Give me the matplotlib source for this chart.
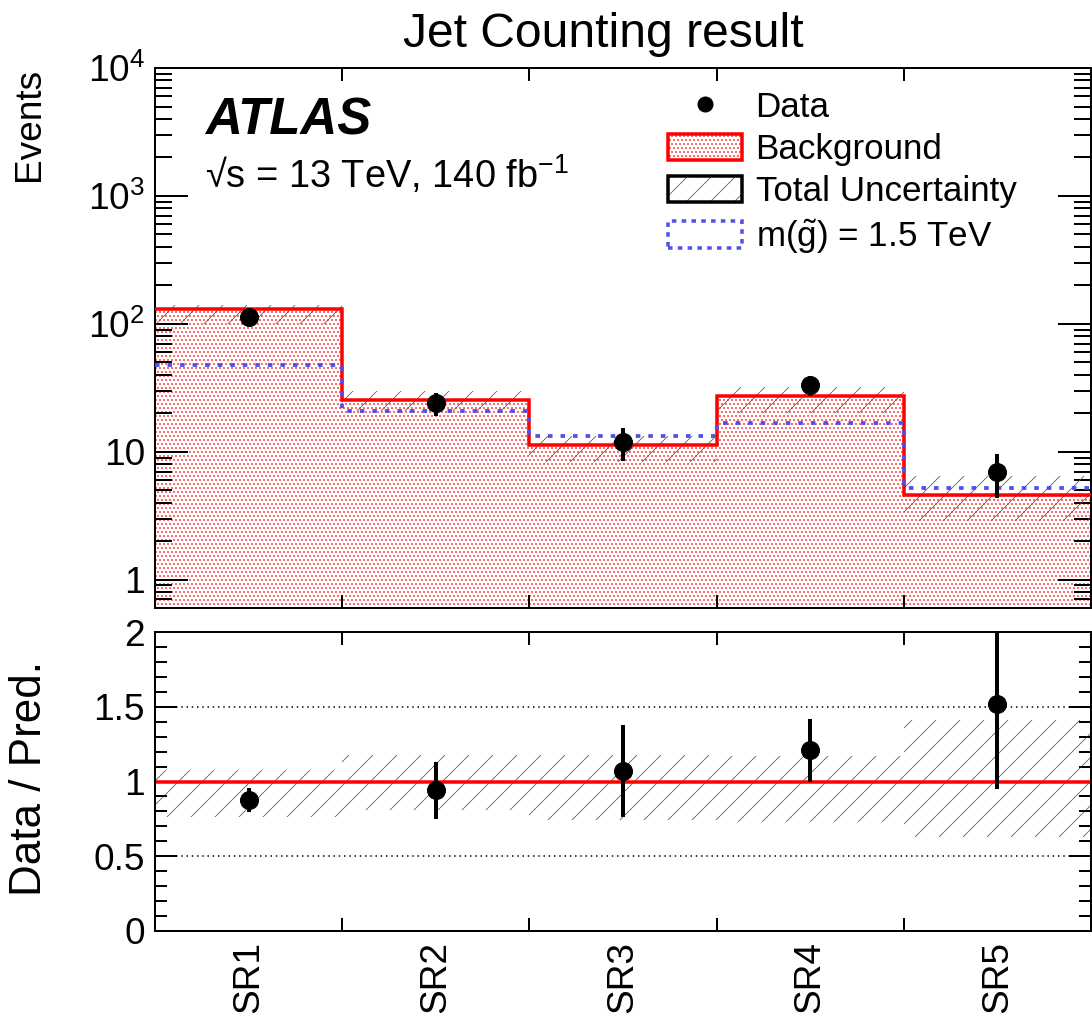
import numpy as np
import matplotlib
matplotlib.use('Agg')
import matplotlib.pyplot as plt
from matplotlib.lines import Line2D
from matplotlib.patches import Patch
from matplotlib.ticker import LogLocator, NullFormatter, MultipleLocator

# signal regions and yields
regions = ['SR1', 'SR2', 'SR3', 'SR4', 'SR5']
data = np.array([114, 24, 12, 33, 7])
bkg = np.array([130, 25.5, 11.2, 27.3, 4.6])
sig = np.array([48, 21, 13.2, 16.8, 5.2])
# relative total uncertainty on the background (up / down)
unc_up = np.array([0.08, 0.18, 0.18, 0.17, 0.41])
unc_dn = np.array([0.24, 0.19, 0.26, 0.27, 0.37])

RED = '#ff0000'
BLUE = '#5050ea'
GRAY = '#5a5a5a'

plt.rcParams['font.family'] = 'Liberation Sans'
plt.rcParams['mathtext.fontset'] = 'custom'
plt.rcParams['mathtext.rm'] = 'Liberation Sans'
plt.rcParams['mathtext.it'] = 'Liberation Sans:italic'
plt.rcParams['mathtext.bf'] = 'Liberation Sans:bold'
plt.rcParams['hatch.linewidth'] = 0.8

W, H = 1092, 1013
fig = plt.figure(figsize=(W / 72, H / 72), dpi=72)


def box(l, t, r, b):
    return [l / W, 1 - b / H, (r - l) / W, (b - t) / H]


ax = fig.add_axes(box(155, 68, 1091, 608))
rax = fig.add_axes(box(155, 632, 1091, 931))

edges = np.arange(len(regions) + 1)
centers = edges[:-1] + 0.5

# --- main panel ---
ax.stairs(bkg, edges, baseline=1e-3, fill=True, facecolor='white',
          edgecolor=RED, hatch='...', lw=0, zorder=1)
ax.stairs(bkg * (1 + unc_up), edges, baseline=bkg * (1 - unc_dn), fill=True,
          facecolor='none', edgecolor=GRAY, hatch='/', lw=0, zorder=2)
ax.stairs(bkg, edges, baseline=None, color=RED, lw=3.5, zorder=3)
ax.stairs(sig, edges, baseline=None, color=BLUE, lw=3.8,
          ls=(0, (1.2, 2.1)), zorder=4)
ax.errorbar(centers, data, yerr=np.sqrt(data), fmt='o', color='black',
            ms=18, elinewidth=4, capsize=0, zorder=5)

ax.set_yscale('log')
ax.set_xlim(0, 5)
ax.set_ylim(0.6, 1e4)
ax.set_yticks([1, 10, 100, 1000, 10000],
              ['1', '10', '$10^2$', '$10^3$', '$10^4$'])
ax.yaxis.set_minor_locator(LogLocator(subs=np.arange(2, 10)))
ax.yaxis.set_minor_formatter(NullFormatter())
ax.set_xticks(edges[1:-1])
ax.set_xticklabels([])
ax.tick_params(which='both', direction='in', top=True, right=True, width=2,
               labelsize=37, pad=10)
ax.tick_params(axis='y', which='major', length=33)
ax.tick_params(axis='y', which='minor', length=17)
ax.tick_params(axis='x', length=13)
for s in ax.spines.values():
    s.set_linewidth(2)

handles = [
    Line2D([], [], marker='o', ls='none', color='black', ms=15),
    Patch(facecolor='white', edgecolor=RED, hatch='...', lw=3.5),
    (Patch(facecolor='white', edgecolor=GRAY, hatch='/', lw=0),
     Patch(facecolor='none', edgecolor='black', lw=3.5)),
    Patch(facecolor='none', edgecolor=BLUE, lw=3.5, ls=(0, (1.3, 1.5))),
]
labels = ['Data', 'Background', 'Total Uncertainty', r'm($\tilde{\mathrm{g}}$) = 1.5 TeV']
ax.legend(handles, labels, loc='upper left',
          bbox_to_anchor=((668 - 155) / 936, (608 - 91) / 540),
          frameon=False, fontsize=35, handlelength=2.1, handleheight=0.8,
          handletextpad=0.4, labelspacing=0.26, borderpad=0, borderaxespad=0)

ax.text(0.053, 0.876, 'ATLAS', transform=ax.transAxes, fontsize=51,
        fontweight='bold', fontstyle='italic')
ax.text(0.053, 0.778, '√s = 13 TeV, 140 fb$^{-1}$', transform=ax.transAxes,
        fontsize=38)

# --- ratio panel ---
ratio = data / bkg
rax.stairs(1 + unc_up, edges, baseline=1 - unc_dn, fill=True,
           facecolor='none', edgecolor=GRAY, hatch='/', lw=0, zorder=1)
rax.axhline(1, color=RED, lw=3.5, zorder=2)
for v in (0.5, 1.5):
    rax.axhline(v, color='black', lw=1.5, ls=(0, (1, 2.5)), zorder=2)
rax.errorbar(centers, ratio, yerr=np.sqrt(data) / bkg, fmt='o', color='black',
             ms=18, elinewidth=4, capsize=0, zorder=5)

rax.set_xlim(0, 5)
rax.set_ylim(0, 2)
rax.set_yticks([0, 0.5, 1, 1.5, 2], ['0', '0.5', '1', '1.5', '2'])
rax.yaxis.set_minor_locator(MultipleLocator(0.1))
rax.set_xticks(edges[1:-1])
rax.set_xticklabels([])
rax.set_xticks(centers, regions, minor=True)
rax.tick_params(which='both', direction='in', top=True, right=True, width=2,
                labelsize=37, pad=10)
rax.tick_params(axis='y', which='major', length=22)
rax.tick_params(axis='y', which='minor', length=12)
rax.tick_params(axis='x', which='major', length=13)
rax.tick_params(axis='x', which='minor', length=0, rotation=90)
for s in rax.spines.values():
    s.set_linewidth(2)

fig.text(603 / W, 1 - 47 / H, 'Jet Counting result', ha='center',
         va='baseline', fontsize=48)
fig.text(30 / W, 1 - 68 / H, 'Events', rotation=90, ha='center', va='top',
         fontsize=37)
fig.text(30 / W, 1 - 779 / H, 'Data / Pred.', rotation=90, ha='center',
         va='center', fontsize=44)

fig.savefig('out.png', dpi=72)
